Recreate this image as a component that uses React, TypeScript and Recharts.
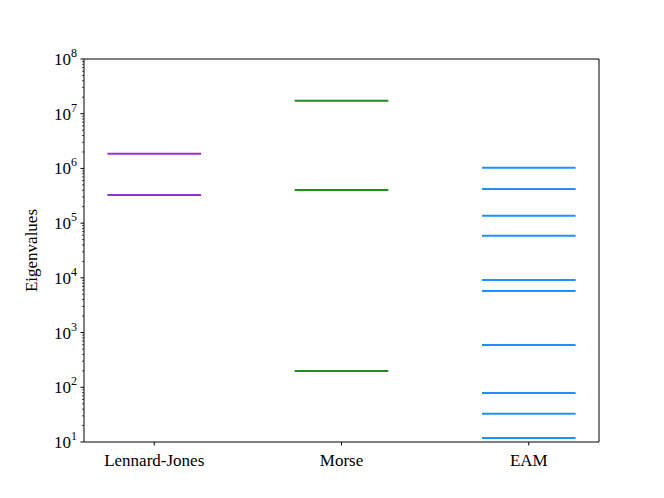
import { LineChart, Line, XAxis, YAxis, Label, ReferenceLine } from 'recharts'

// categories (x positions 0, 1, 2)
const categories = ['Lennard-Jones', 'Morse', 'EAM']

// eigenvalues per potential
const ljValues = [1.86e6, 3.27e5]
const morseValues = [1.73e7, 4.04e5, 198]
const eamValues = [1.03e6, 4.21e5, 1.37e5, 5.9e4, 9.1e3, 5.75e3, 593, 78.7, 32.9, 11.8]

const seriesColors = ['#9932CC', '#228B22', '#1E90FF']
const groups = [ljValues, morseValues, eamValues]

// log axis ticks
const majorExps = [1, 2, 3, 4, 5, 6, 7, 8]
const majorTicks = majorExps.map((e) => Math.pow(10, e))
const minorTicks: number[] = []
for (let e = 1; e < 8; e++) {
  for (let m = 2; m <= 9; m++) minorTicks.push(m * Math.pow(10, e))
}

const FONT = "'Liberation Serif', 'Times New Roman', 'DejaVu Serif', serif"
const HALF = 0.25
const X_DOMAIN: [number, number] = [-0.375, 2.375]
const Y_DOMAIN: [number, number] = [10, 1e8]

function YTick(props: any) {
  const { x, y, payload } = props
  const v = payload.value as number
  const exp = Math.round(Math.log10(v))
  const isMajor = Math.abs(Math.pow(10, exp) - v) / v < 1e-6
  if (!isMajor) {
    return <line x1={x} x2={x - 2} y1={y} y2={y} stroke="#000" strokeWidth={0.7} />
  }
  return (
    <g>
      <line x1={x} x2={x - 3.5} y1={y} y2={y} stroke="#000" strokeWidth={1} />
      <text x={x - 7} y={y + 6} textAnchor="end" fill="#000" style={{ fontFamily: FONT, fontSize: 17 }}>
        <tspan>10</tspan>
        <tspan dy={-8} style={{ fontSize: 12 }}>{exp}</tspan>
      </text>
    </g>
  )
}

export default function App() {
  return (
    <div style={{ position: 'absolute', left: 0, top: 0, background: '#fff' }}>
      <LineChart width={664} height={498} margin={{ top: 59, right: 65, bottom: 0, left: 0 }}>
        <XAxis
          dataKey="x"
          type="number"
          domain={X_DOMAIN}
          allowDataOverflow
          ticks={[0, 1, 2]}
          tickFormatter={(v: number) => categories[v] ?? ''}
          height={56}
          stroke="#000"
          tickSize={3.5}
          tickMargin={8}
          tick={{ fill: '#000', style: { fontFamily: FONT, fontSize: 17 } }}
        />
        <YAxis
          type="number"
          scale="log"
          domain={Y_DOMAIN}
          allowDataOverflow
          ticks={[...majorTicks, ...minorTicks]}
          interval={0}
          width={84}
          stroke="#000"
          tickLine={false}
          tickSize={0}
          tickMargin={0}
          tick={<YTick />}
        >
          <Label
            content={(p: any) => {
              const vb = p.viewBox
              const cx = 33
              const cy = vb.y + vb.height / 2
              return (
                <text x={cx} y={cy} transform={`rotate(-90 ${cx} ${cy})`} textAnchor="middle" dominantBaseline="middle" fill="#000" style={{ fontFamily: FONT, fontSize: 17 }}>
                  Eigenvalues
                </text>
              )
            }}
          />
        </YAxis>
        {/* frame: top and right spines */}
        <ReferenceLine y={Y_DOMAIN[1]} stroke="#000" strokeWidth={1} />
        <ReferenceLine x={X_DOMAIN[1]} stroke="#000" strokeWidth={1} />
        {groups.map((vals, i) =>
          vals.map((v, j) => (
            <Line
              key={`${i}-${j}`}
              data={[
                { x: i - HALF, y: v },
                { x: i + HALF, y: v },
              ]}
              dataKey="y"
              stroke={seriesColors[i]}
              strokeWidth={2}
              dot={false}
              activeDot={false}
              isAnimationActive={false}
            />
          ))
        )}
      </LineChart>
    </div>
  )
}
